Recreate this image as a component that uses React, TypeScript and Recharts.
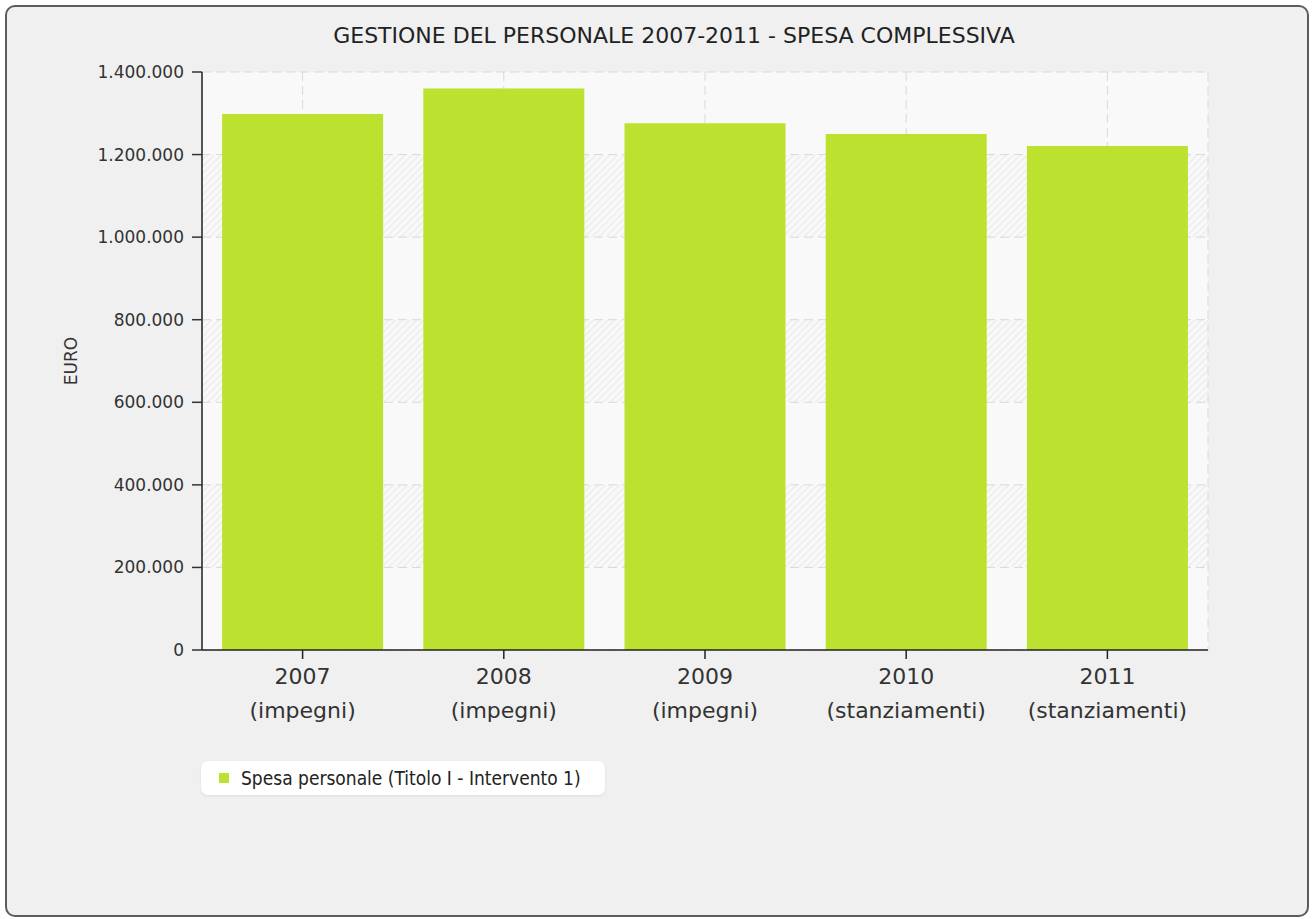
import { BarChart, Bar, XAxis, YAxis, CartesianGrid, Legend } from "recharts";

const years = ["2007", "2008", "2009", "2010", "2011"];
const notes = ["(impegni)", "(impegni)", "(impegni)", "(stanziamenti)", "(stanziamenti)"];
const spesaPersonale = [1298000, 1360000, 1276000, 1250000, 1221000];
const yTicks = [0, 200000, 400000, 600000, 800000, 1000000, 1200000, 1400000];

const data = years.map((year, i) => ({ year, note: notes[i], spesa: spesaPersonale[i] }));

const FONT = "'DejaVu Sans', Verdana, sans-serif";

const formatEuro = (v: number) => String(v).replace(/\B(?=(\d{3})+(?!\d))/g, ".");

function YearTick({ x, y, payload }: any) {
  return (
    <g transform={`translate(${x},${y})`}>
      <text textAnchor="middle" fill="#333" fontSize={22} fontFamily={FONT}>
        <tspan x={0} dy={23}>{payload.value}</tspan>
        <tspan x={0} dy={34}>{notes[payload.index]}</tspan>
      </text>
    </g>
  );
}

function EuroLabel({ viewBox }: any) {
  const cx = viewBox.x + 71;
  const cy = viewBox.y + viewBox.height / 2;
  return (
    <text
      x={cx}
      y={cy}
      transform={`rotate(-90, ${cx}, ${cy})`}
      textAnchor="middle"
      dominantBaseline="central"
      fill="#333"
      fontSize={17}
      fontFamily={FONT}
    >
      EURO
    </text>
  );
}

function LegendBox({ payload }: any) {
  return (
    <div
      style={{
        background: "#fff",
        borderRadius: 7,
        boxShadow: "0 1px 3px rgba(0,0,0,0.08)",
        height: 34,
        display: "flex",
        alignItems: "center",
        paddingLeft: 18,
        boxSizing: "border-box",
      }}
    >
      {(payload || []).map((entry: any) => (
        <span key={entry.value} style={{ display: "flex", alignItems: "center" }}>
          <span style={{ width: 10, height: 10, background: entry.color, marginRight: 12 }} />
          <span style={{ fontFamily: "'DejaVu Sans Condensed', 'DejaVu Sans', sans-serif", fontSize: 19, color: "#222" }}>
            {entry.value}
          </span>
        </span>
      ))}
    </div>
  );
}

export default function App() {
  return (
    <div style={{ position: "absolute", left: 0, top: 0, width: 1312, height: 919, background: "#fff" }}>
      <svg width={0} height={0} style={{ position: "absolute" }}>
        <defs>
          <pattern id="hatch" patternUnits="userSpaceOnUse" width={5} height={5} patternTransform="rotate(45)">
            <rect width={5} height={5} fill="#f9f9f9" />
            <line x1={1} y1={0} x2={1} y2={5} stroke="#e9e9e9" strokeWidth={1.2} />
          </pattern>
        </defs>
      </svg>
      <div
        style={{
          position: "absolute",
          left: 5,
          top: 5,
          width: 1304,
          height: 912,
          boxSizing: "border-box",
          border: "2px solid #5c5c5c",
          borderRadius: 10,
          background: "#f0f0f0",
        }}
      />
      <div
        style={{
          position: "absolute",
          left: 0,
          width: 1348,
          top: 23,
          lineHeight: "26px",
          textAlign: "center",
          fontFamily: FONT,
          fontSize: 22,
          color: "#222",
        }}
      >
        GESTIONE DEL PERSONALE 2007-2011 - SPESA COMPLESSIVA
      </div>
      <div style={{ position: "absolute", left: 0, top: 0 }}>
        <BarChart
          width={1312}
          height={919}
          data={data}
          margin={{ top: 72, right: 104, left: 0, bottom: 199 }}
          barCategoryGap="10%"
        >
          <CartesianGrid
            stroke="#d9d9d9"
            strokeDasharray="9 5"
            fill="#f9f9f9"
            horizontalFill={["#f9f9f9", "url(#hatch)"]}
            fillOpacity={1}
          />
          <XAxis
            dataKey="year"
            height={70}
            tick={<YearTick />}
            tickSize={9}
            axisLine={{ stroke: "#222", strokeWidth: 1.5 }}
            tickLine={{ stroke: "#222", strokeWidth: 1.5 }}
            interval={0}
          />
          <YAxis
            width={202}
            domain={[0, 1400000]}
            ticks={yTicks}
            tickFormatter={formatEuro}
            tickSize={10}
            tickMargin={8}
            tick={{ fontSize: 17, fill: "#333", fontFamily: FONT }}
            axisLine={{ stroke: "#222", strokeWidth: 1.5 }}
            tickLine={{ stroke: "#333", strokeWidth: 1.5 }}
            label={{ value: "EURO", content: EuroLabel }}
          />
          <Legend
            layout="horizontal"
            verticalAlign="middle"
            align="center"
            content={<LegendBox />}
            wrapperStyle={{ left: 201, top: 761, width: 404, height: 34 }}
          />
          <Bar
            dataKey="spesa"
            name="Spesa personale (Titolo I - Intervento 1)"
            fill="#bce12f"
            isAnimationActive={false}
          />
        </BarChart>
      </div>
    </div>
  );
}
